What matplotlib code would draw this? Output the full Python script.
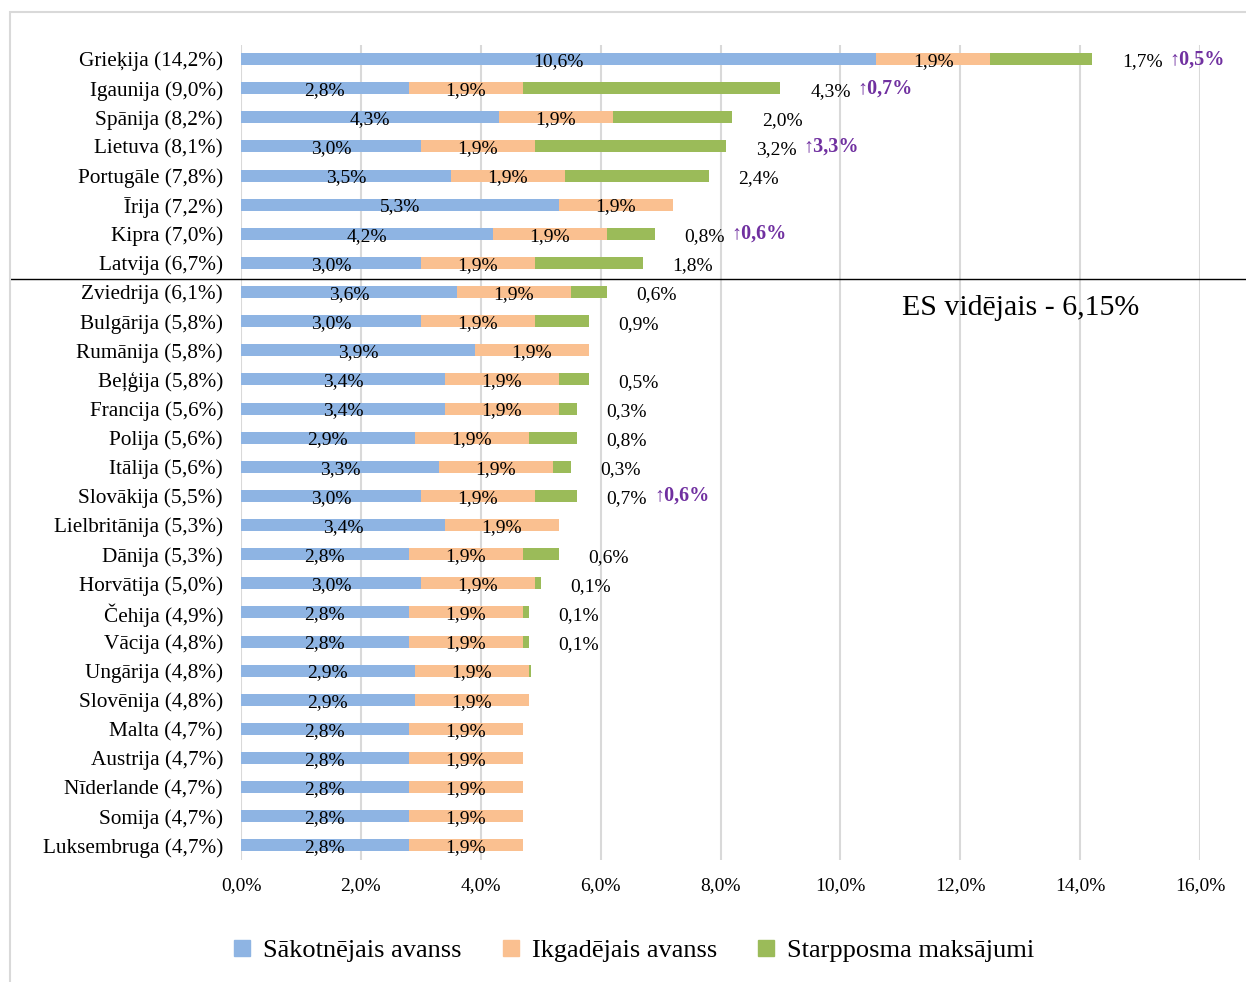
import numpy as np
import matplotlib
matplotlib.use('Agg')
from matplotlib import pyplot as plt
from matplotlib.patches import Rectangle, Patch
from matplotlib.transforms import blended_transform_factory

plt.rcParams['font.family'] = ['Liberation Serif', 'DejaVu Serif']

countries = ['Grieķija', 'Igaunija', 'Spānija', 'Lietuva', 'Portugāle', 'Īrija', 'Kipra', 'Latvija',
             'Zviedrija', 'Bulgārija', 'Rumānija', 'Beļģija', 'Francija', 'Polija', 'Itālija',
             'Slovākija', 'Lielbritānija', 'Dānija', 'Horvātija', 'Čehija', 'Vācija', 'Ungārija',
             'Slovēnija', 'Malta', 'Austrija', 'Nīderlande', 'Somija', 'Luksembruga']
totals = [14.2, 9.0, 8.2, 8.1, 7.8, 7.2, 7.0, 6.7, 6.1, 5.8, 5.8, 5.8, 5.6, 5.6, 5.6, 5.5,
          5.3, 5.3, 5.0, 4.9, 4.8, 4.8, 4.8, 4.7, 4.7, 4.7, 4.7, 4.7]
initial = [10.6, 2.8, 4.3, 3.0, 3.5, 5.3, 4.2, 3.0, 3.6, 3.0, 3.9, 3.4, 3.4, 2.9, 3.3, 3.0,
           3.4, 2.8, 3.0, 2.8, 2.8, 2.9, 2.9, 2.8, 2.8, 2.8, 2.8, 2.8]
annual = [1.9] * 28
interim = [1.7, 4.3, 2.0, 3.2, 2.4, 0.0, 0.8, 1.8, 0.6, 0.9, 0.0, 0.5, 0.3, 0.8, 0.3, 0.7,
           0.0, 0.6, 0.1, 0.1, 0.1, 0.04, 0.0, 0.0, 0.0, 0.0, 0.0, 0.0]
increase = [0.5, 0.7, 0, 3.3, 0, 0, 0.6, 0, 0, 0, 0, 0, 0, 0, 0, 0.6,
            0, 0, 0, 0, 0, 0, 0, 0, 0, 0, 0, 0]
series_names = ['Sākotnējais avanss', 'Ikgadējais avanss', 'Starpposma maksājumi']
eu_avg_text = 'ES vidējais - 6,15%'

blue, orange, green, purple = '#8EB4E3', '#FAC090', '#9BBB59', '#7030A0'

def pct(v):
    return f'{v:.1f}%'.replace('.', ',')

fig = plt.figure(figsize=(12.46, 9.82), dpi=100)
ax = fig.add_axes([241 / 1246, 1 - 860 / 982, (1200 - 241) / 1246, (860 - 44.5) / 982])

y = np.arange(len(countries))
initial = np.array(initial)
annual = np.array(annual)
interim = np.array(interim)
h = 0.41
ax.barh(y, initial, height=h, color=blue, zorder=2)
ax.barh(y, annual, left=initial, height=h, color=orange, zorder=2)
ax.barh(y, interim, left=initial + annual, height=h, color=green, zorder=2)

for i in range(len(countries)):
    ax.text(initial[i] / 2, y[i] + 0.08, pct(initial[i]), ha='center', va='center', fontsize=14, zorder=3)
    ax.text(initial[i] + annual[i] / 2, y[i] + 0.08, pct(annual[i]), ha='center', va='center', fontsize=14, zorder=3)
    end = initial[i] + annual[i] + interim[i]
    if interim[i] >= 0.1:
        ax.text(end + 0.5, y[i] + 0.1, pct(interim[i]), ha='left', va='center', fontsize=14)
        if increase[i]:
            ax.annotate('↑' + pct(increase[i]), (end + 0.5, y[i] + 0.1), xytext=(34, 2),
                        textcoords='offset points', ha='left', va='center', fontsize=14.5,
                        fontweight='bold', color=purple)

ax.set_xlim(0, 16)
ax.set_ylim(len(countries) - 0.5, -0.5)
ax.set_xticks(np.arange(0, 17, 2))
ax.set_xticklabels([pct(v) for v in np.arange(0, 17, 2)])
ax.set_yticks(y)
ax.set_yticklabels([f'{c} ({pct(t)})' for c, t in zip(countries, totals)])
ax.tick_params(axis='x', length=0, pad=12, labelsize=14)
ax.tick_params(axis='y', length=0, pad=13, labelsize=15.3)
ax.grid(axis='x', color='#D9D9D9', linewidth=1.5, zorder=0)
ax.set_axisbelow(True)
for s in ax.spines.values():
    s.set_visible(False)

# separator line between top 8 and rest
tr = blended_transform_factory(fig.transFigure, ax.transData)
ax.plot([10 / 1246, 1.0], [7.55, 7.55], color='black', linewidth=1, transform=tr, clip_on=False)
ax.text(13.0, 8.56, eu_avg_text, ha='center', va='center', fontsize=21.5)

# outer chart frame
fig.patches.append(Rectangle((10 / 1246, -0.1), 1.2, 1.1 - 12 / 982, transform=fig.transFigure,
                             fill=False, edgecolor='#D9D9D9', linewidth=1.5))

handles = [Patch(color=c) for c in (blue, orange, green)]
fig.legend(handles, series_names, loc='center', bbox_to_anchor=(0.509, 1 - 951 / 982), ncol=3,
           frameon=False, fontsize=19, handlelength=0.6, handleheight=0.6, handletextpad=0.5,
           columnspacing=1.55)

fig.savefig('out.png', dpi=100)
